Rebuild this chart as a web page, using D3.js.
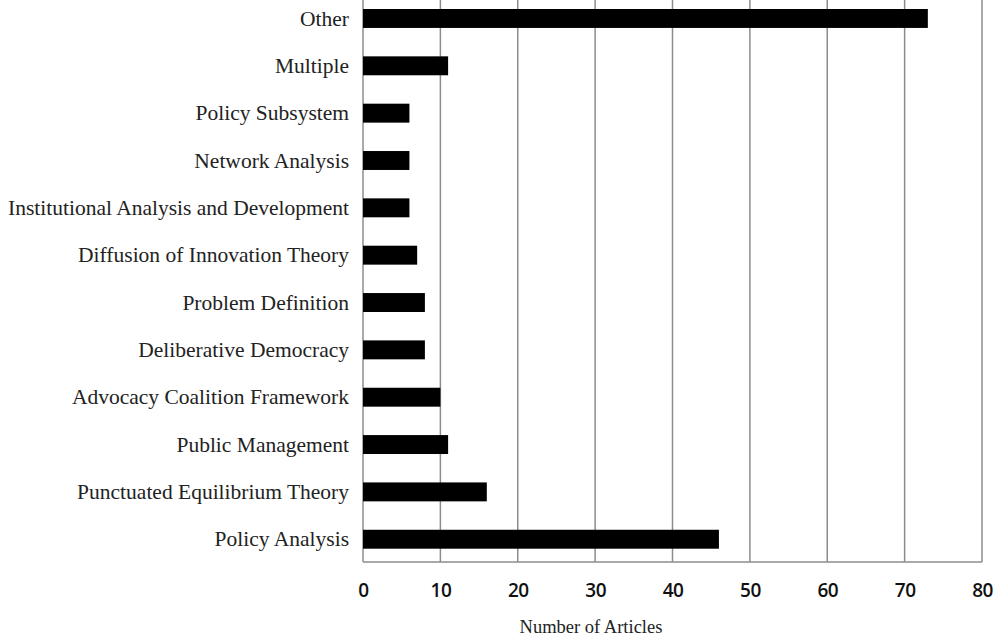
<!DOCTYPE html>
<html>
<head>
<meta charset="utf-8">
<script src="https://cdn.jsdelivr.net/npm/d3@7"></script>
<style>
body { margin: 0; background: #fff; }
</style>
</head>
<body>
<script>
var categories = ["Other", "Multiple", "Policy Subsystem", "Network Analysis",
  "Institutional Analysis and Development", "Diffusion of Innovation Theory",
  "Problem Definition", "Deliberative Democracy", "Advocacy Coalition Framework",
  "Public Management", "Punctuated Equilibrium Theory", "Policy Analysis"];
var values = [73, 11, 6, 6, 6, 7, 8, 8, 10, 11, 16, 46];
var ticks = [0, 10, 20, 30, 40, 50, 60, 70, 80];

var width = 999, height = 639;
var plotLeft = 363, plotRight = 982, plotTop = -6, plotBottom = 562;

var svg = d3.select('body').append('svg').attr('width', width).attr('height', height);

var x = d3.scaleLinear().domain([0, 80]).range([plotLeft, plotRight]);
var y = d3.scaleBand().domain(categories).range([9, 548.7]).paddingInner(0.6).paddingOuter(0);

// gridlines
svg.selectAll(".grid")
  .data(ticks)
  .enter().append("line")
  .attr("x1", function (d) { return x(d); })
  .attr("x2", function (d) { return x(d); })
  .attr("y1", plotTop)
  .attr("y2", plotBottom)
  .attr("stroke", "#8c8c8c")
  .attr("stroke-width", 1.5);

// bottom axis line
svg.append("line")
  .attr("x1", x(0)).attr("x2", x(80))
  .attr("y1", plotBottom).attr("y2", plotBottom)
  .attr("stroke", "#8c8c8c").attr("stroke-width", 1.5);

// bars
svg.selectAll(".bar")
  .data(values)
  .enter().append("rect")
  .attr("x", x(0))
  .attr("y", function (d, i) { return y(categories[i]); })
  .attr("width", function (d) { return x(d) - x(0); })
  .attr("height", y.bandwidth())
  .attr("fill", "#000");

// category labels
svg.selectAll(".cat")
  .data(categories)
  .enter().append("text")
  .attr("x", 349)
  .attr("y", function (d) { return y(d) + y.bandwidth() / 2; })
  .attr("dy", "0.33em")
  .attr("text-anchor", "end")
  .attr("font-family", "Liberation Serif, serif")
  .attr("font-size", 21.5)
  .attr("fill", "#222")
  .text(function (d) { return d; });

// tick labels
var xAxis = d3.axisBottom(x).tickValues(ticks).tickSize(0).tickPadding(0);
var gx = svg.append("g").attr("transform", "translate(0," + 583 + ")").call(xAxis);
gx.select(".domain").remove();
gx.selectAll("text")
  .attr("font-family", "Open Sans, sans-serif")
  .attr("font-size", 19)
  .attr("font-weight", 600)
  .attr("letter-spacing", -0.5)
  .attr("fill", "#111");

// axis title
svg.append("text")
  .attr("x", 591)
  .attr("y", 633)
  .attr("text-anchor", "middle")
  .attr("font-family", "Liberation Serif, serif")
  .attr("font-size", 18.5)
  .attr("fill", "#222")
  .text("Number of Articles");
</script>
</body>
</html>
